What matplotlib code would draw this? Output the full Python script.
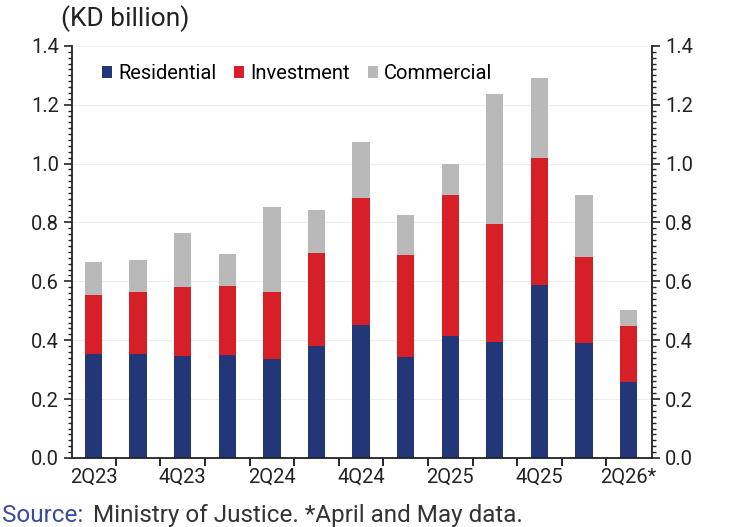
import numpy as np
import matplotlib.pyplot as plt
from matplotlib.ticker import MultipleLocator

plt.rcParams['font.family'] = ['Roboto', 'DejaVu Sans']

# Quarterly real estate sales by type (KD billion)
quarters = ['2Q23', '3Q23', '4Q23', '1Q24', '2Q24', '3Q24', '4Q24',
            '1Q25', '2Q25', '3Q25', '4Q25', '1Q26', '2Q26*']
residential = [0.353, 0.353, 0.347, 0.350, 0.336, 0.379, 0.451,
               0.344, 0.415, 0.394, 0.587, 0.390, 0.257]
investment = [0.202, 0.211, 0.234, 0.233, 0.227, 0.317, 0.432,
              0.346, 0.479, 0.400, 0.431, 0.292, 0.191]
commercial = [0.112, 0.109, 0.182, 0.109, 0.289, 0.146, 0.189,
              0.135, 0.105, 0.441, 0.272, 0.210, 0.056]

c_res = '#233677'
c_inv = '#d71f27'
c_com = '#b9b9b9'

fig = plt.figure(figsize=(7.29, 5.27), dpi=100)
ax = fig.add_axes([0.099, 0.131, 0.795, 0.782])

x = np.arange(len(quarters))
res = np.array(residential)
inv = np.array(investment)
com = np.array(commercial)
w = 0.39
ax.bar(x, res, w, color=c_res, label='Residential', zorder=2)
ax.bar(x, inv, w, bottom=res, color=c_inv, label='Investment', zorder=2)
ax.bar(x, com, w, bottom=res + inv, color=c_com, label='Commercial', zorder=2)

ax.set_ylim(0, 1.4)
ax.set_xlim(-0.48, 12.52)
ax.yaxis.set_major_locator(MultipleLocator(0.2))
ax.yaxis.set_minor_locator(MultipleLocator(0.02))
ax.yaxis.set_major_formatter(lambda v, p: f'{v:.1f}')
ax.tick_params(axis='y', which='both', right=True, labelright=True,
               direction='out', labelsize=14.5, colors='#222222')
ax.tick_params(axis='y', which='major', length=6, width=1.2)
ax.tick_params(axis='y', which='minor', length=3, width=1)

ax.set_xticks(x[::2])
ax.set_xticklabels(quarters[::2])
ax.set_xticks(x[:-1] + 0.5, minor=True)
ax.tick_params(axis='x', which='major', length=0, pad=7, labelsize=14.5,
               colors='#222222')
ax.tick_params(axis='x', which='minor', length=6, width=1.2, direction='out')

ax.spines['top'].set_visible(False)
for s in ['left', 'right', 'bottom']:
    ax.spines[s].set_color('#222222')
    ax.spines[s].set_linewidth(1.3)

ax.grid(axis='y', color='#eeeeee', linewidth=0.8, zorder=0)

ax.legend(loc='upper left', bbox_to_anchor=(0.02, 1.0), ncol=3, frameon=False,
          fontsize=14.5, handlelength=0.5, handleheight=0.5, handletextpad=0.3,
          columnspacing=0.9)

fig.text(0.084, 0.965, '(KD billion)', fontsize=19, color='#222222',
         ha='left', va='center')
fig.text(0.003, 0.022, 'Source:', fontsize=17.5, color='#3c4a9c', ha='left',
         va='center')
fig.text(0.128, 0.022, 'Ministry of Justice. *April and May data.',
         fontsize=17.5, color='#333333', ha='left', va='center')

fig.savefig('out.png', dpi=100)
